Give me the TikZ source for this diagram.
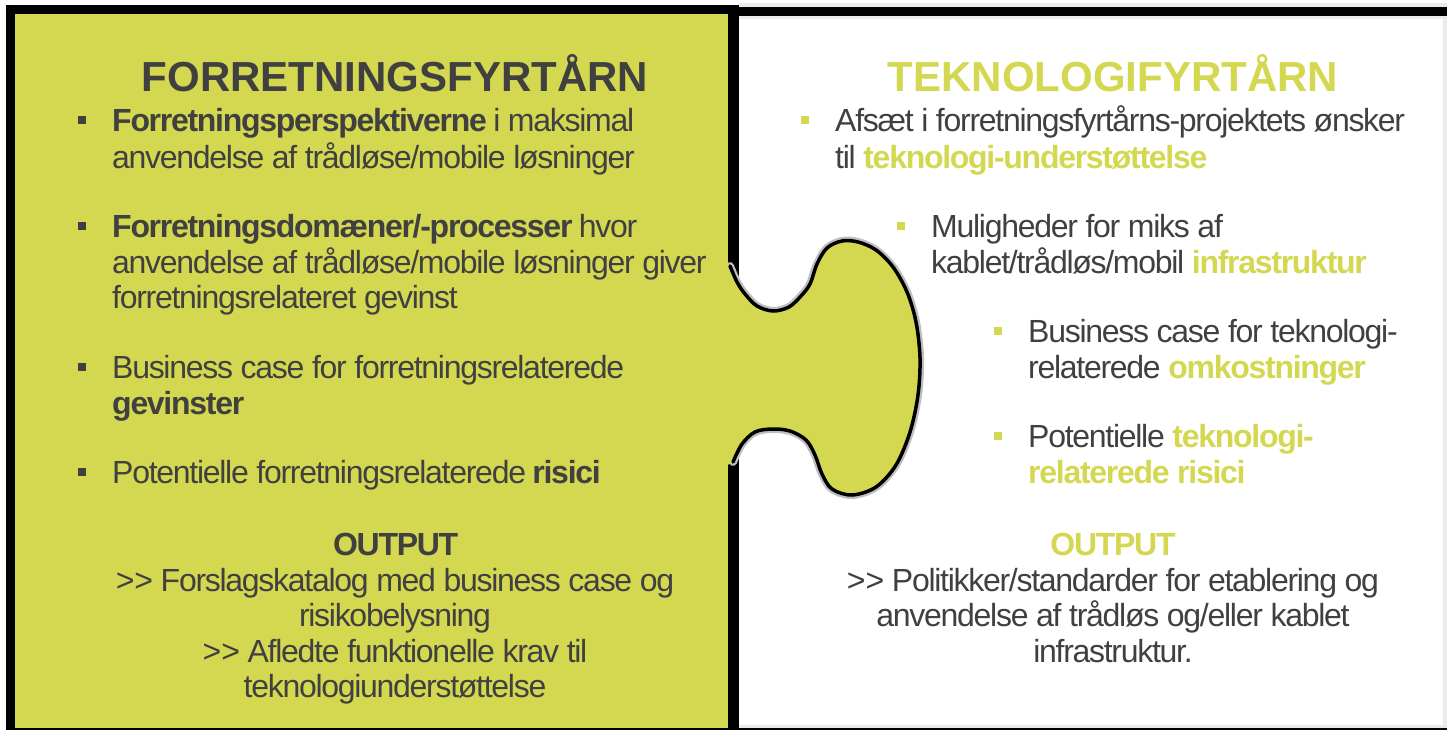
\documentclass[tikz,border=0pt]{standalone}
\usepackage{fontspec}
\setmainfont{Liberation Sans}
\newfontfamily\bodyf{Liberation Sans}[LetterSpace=-4.0]
\newfontfamily\titlef{Liberation Sans}
\definecolor{pzlime}{RGB}{212,216,80}
\definecolor{tgray}{RGB}{64,64,64}
\definecolor{fgray}{RGB}{235,235,235}
\newcommand{\hlw}[1]{\textcolor{pzlime}{\bfseries #1}}
\tikzset{
  txt/.style={inner sep=0pt, anchor=base west, text=tgray, font=\bodyf\fontsize{32}{36}\selectfont},
  ctxt/.style={txt, anchor=base},
  ttl/.style={inner sep=0pt, anchor=base, font=\titlef\bfseries\fontsize{42}{42}\selectfont},
  lbul/.style={fill=tgray, draw=none, minimum size=8pt, inner sep=0pt, rectangle},
  rbul/.style={fill=pzlime, draw=none, minimum size=8pt, inner sep=0pt, rectangle},
  halo/.style={draw=gray!50, line width=8pt, line cap=round},
  outline/.style={draw=black, line width=3.5pt, line cap=round}
}
\begin{document}
\begin{tikzpicture}[x=1pt,y=-1pt]
\useasboundingbox (0,0) rectangle (1447,730);
% right panel
\fill[fgray] (739,3) rectangle (1447,730);
\fill[white] (739,19) rectangle (1443,725);
\fill[black] (739,7) rectangle (1447,16);
\fill[black] (739,728) rectangle (1447,731);
% left panel
\fill[black] (6,5) rectangle (739,732);
\fill[pzlime] (15,14) rectangle (728,728);
% puzzle tab
\draw[halo] plot[smooth, tension=0.55] coordinates {(730,266) (737,282) (745,294) (757,306) (773,311) (789,307) (801,296) (810,284) (817,264) (827,248) (842,241) (858,242) (876,250) (893,267) (907,292) (916,322) (920,358) (918,395) (910,432) (896,465) (876,487) (852,495) (832,489) (822,474) (815,455) (806,440) (790,431) (772,429) (755,432) (742,444) (733,462)};
\fill[pzlime] (726,262) -- plot[smooth, tension=0.55] coordinates {(730,266) (737,282) (745,294) (757,306) (773,311) (789,307) (801,296) (810,284) (817,264) (827,248) (842,241) (858,242) (876,250) (893,267) (907,292) (916,322) (920,358) (918,395) (910,432) (896,465) (876,487) (852,495) (832,489) (822,474) (815,455) (806,440) (790,431) (772,429) (755,432) (742,444) (733,462)} -- (726,466) -- cycle;
\draw[outline] plot[smooth, tension=0.55] coordinates {(730,266) (737,282) (745,294) (757,306) (773,311) (789,307) (801,296) (810,284) (817,264) (827,248) (842,241) (858,242) (876,250) (893,267) (907,292) (916,322) (920,358) (918,395) (910,432) (896,465) (876,487) (852,495) (832,489) (822,474) (815,455) (806,440) (790,431) (772,429) (755,432) (742,444) (733,462)};
% titles
\node[ttl, text=tgray] (lt) at (395,92) {FORRETNINGSFYRTÅRN};
\node[ttl, text=pzlime] (rt) at (1113,92) {TEKNOLOGIFYRTÅRN};
% left bullets
\node[lbul] (lb1) at (82,120.5) {};
\node[lbul] (lb2) at (82,225.5) {};
\node[lbul] (lb3) at (82,366.5) {};
\node[lbul] (lb4) at (82,471.5) {};
\node[txt] (l1a) at (112,132) {\textbf{Forretningsperspektiverne} i maksimal};
\node[txt] (l1b) at (112,168) {anvendelse af trådløse/mobile løsninger};
\node[txt] (l2a) at (112,237) {\textbf{Forretningsdomæner/-processer} hvor};
\node[txt] (l2b) at (112,273) {anvendelse af trådløse/mobile løsninger giver};
\node[txt] (l2c) at (112,308) {forretningsrelateret gevinst};
\node[txt] (l3a) at (112,378) {Business case for forretningsrelaterede};
\node[txt] (l3b) at (112,414) {\textbf{gevinster}};
\node[txt] (l4a) at (112,483) {Potentielle forretningsrelaterede \textbf{risici}};
% left output
\node[ctxt] (lo) at (395,555) {\textbf{OUTPUT}};
\node[ctxt] (lo1) at (395,591) {>\kern0pt> Forslagskatalog med business case og};
\node[ctxt] (lo2) at (395,626) {risikobelysning};
\node[ctxt] (lo3) at (395,662) {>\kern0pt> Afledte funktionelle krav til};
\node[ctxt] (lo4) at (395,697) {teknologiunderstøttelse};
% right bullets
\node[rbul] (rb1) at (805,120.5) {};
\node[rbul] (rb2) at (901,225.5) {};
\node[rbul] (rb3) at (998,330.5) {};
\node[rbul] (rb4) at (998,435.5) {};
\node[txt] (r1a) at (835,132) {Afsæt i forretningsfyrtårns-projektets ønsker};
\node[txt] (r1b) at (835,168) {til \hlw{teknologi-understøttelse}};
\node[txt] (r2a) at (931,237) {Muligheder for miks af};
\node[txt] (r2b) at (931,273) {kablet/trådløs/mobil \hlw{infrastruktur}};
\node[txt] (r3a) at (1028,342) {Business case for teknologi-};
\node[txt] (r3b) at (1028,378) {relaterede \hlw{omkostninger}};
\node[txt] (r4a) at (1028,447) {Potentielle \hlw{teknologi-}};
\node[txt] (r4b) at (1028,483) {\hlw{relaterede risici}};
% right output
\node[ctxt] (ro) at (1113,555) {\hlw{OUTPUT}};
\node[ctxt] (ro1) at (1113,591) {>\kern0pt> Politikker/standarder for etablering og};
\node[ctxt] (ro2) at (1113,626) {anvendelse af trådløs og/eller kablet};
\node[ctxt] (ro3) at (1113,662) {infrastruktur.};
\end{tikzpicture}
\end{document}
